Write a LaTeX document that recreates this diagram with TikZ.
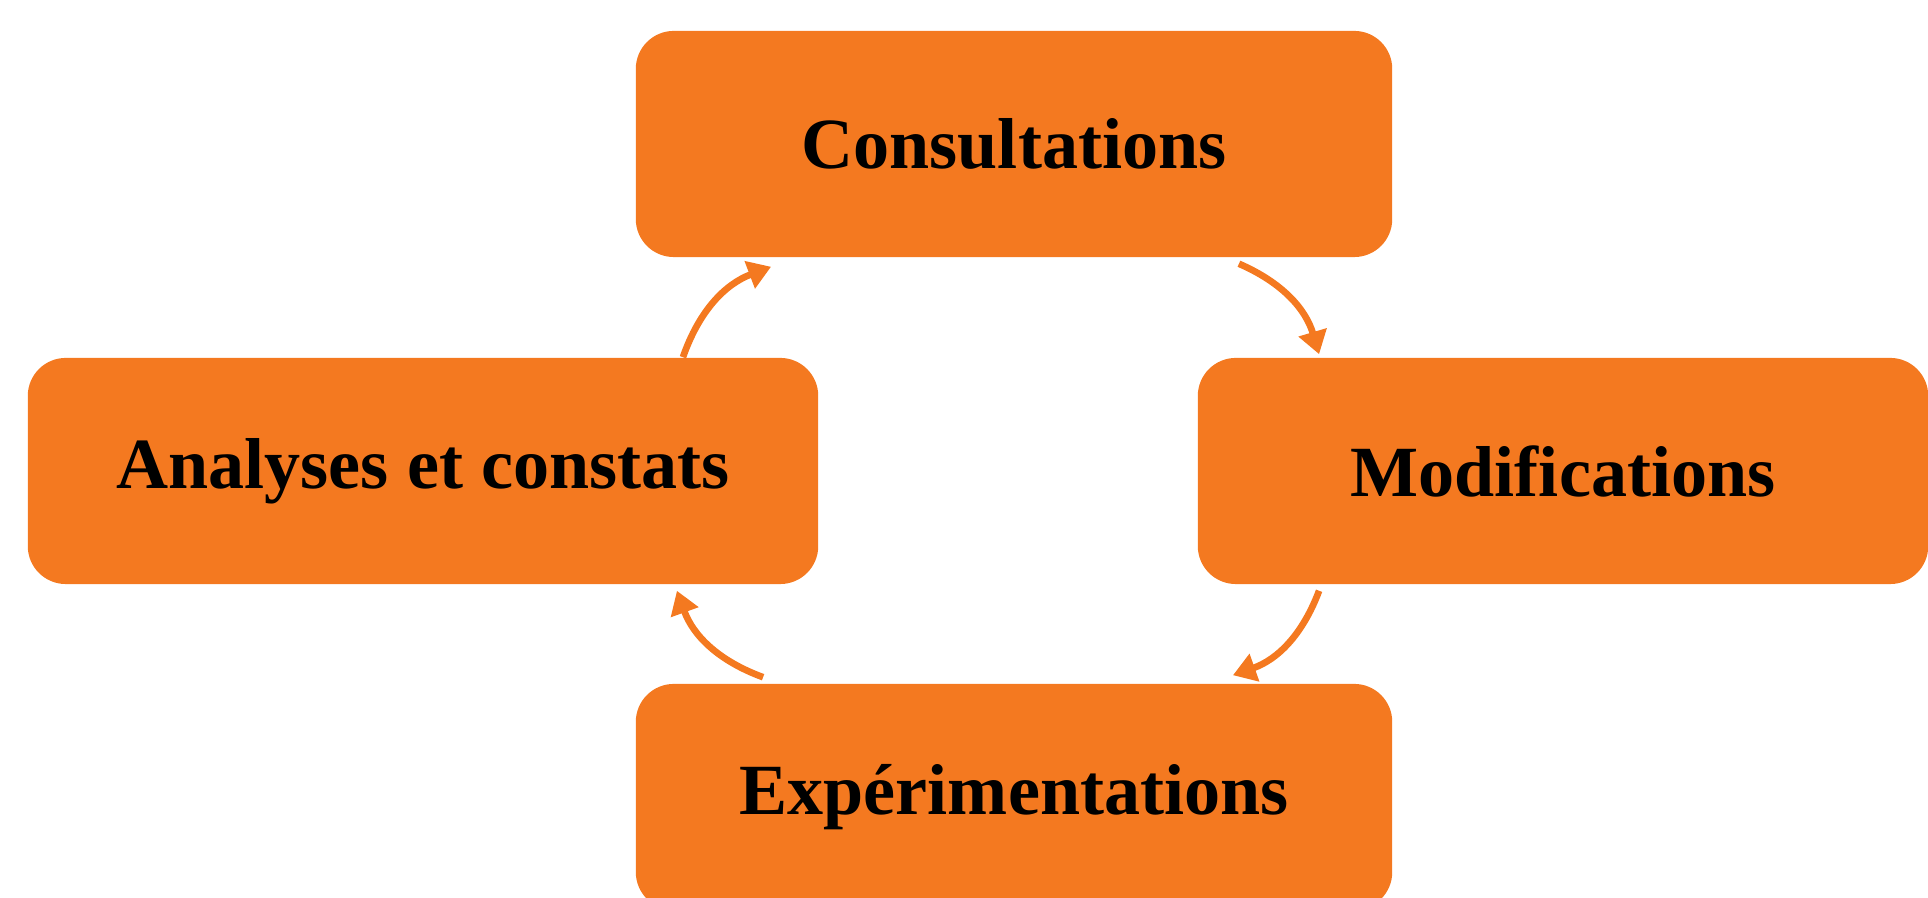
\documentclass[tikz,border=0pt]{standalone}
\usepackage{fontspec}
\setmainfont{Liberation Serif}
\usepackage{tikz}
\usetikzlibrary{positioning,arrows.meta,calc}

\definecolor{cycorange}{RGB}{244,121,32}

\begin{document}
\begin{tikzpicture}[
    x=0.01cm, y=0.01cm,
    >={Triangle[length=6.5pt,width=8pt]},
    stage/.style={
        rectangle,
        rounded corners=0.38cm,
        fill=cycorange,
        minimum height=2.26cm,
        align=center,
        inner sep=0pt,
        font=\fontsize{20.5}{24}\selectfont\bfseries
    },
    cyc/.style={->, draw=cycorange, line width=1.9pt}
]
\useasboundingbox (0,0) rectangle (1928,898);
\clip (0,0) rectangle (1928,898);

\node[stage, minimum width=7.56cm] (cons) at (1014,754) {Consultations};
\node[stage, minimum width=7.90cm] (ana) at (423,427) {Analyses et constats};
\node[stage, minimum width=7.30cm] (mod) at (1563,427) {Modifications};
\node[stage, minimum width=7.56cm] (exp) at (1014,101) {Expérimentations};

\draw[cyc] ($(ana.north east)+(-136,0)$) to[bend left=25] ($(cons.south west)+(136,-9)$);
\draw[cyc] ($(cons.south east)+(-154,-6)$) to[bend left=25] ($(mod.north west)+(122,3)$);
\draw[cyc] ($(mod.south west)+(122,-6)$) to[bend left=25] ($(exp.north east)+(-160,8)$);
\draw[cyc] ($(exp.north west)+(128,6)$) to[bend left=25] ($(ana.south east)+(-142,-6)$);

\end{tikzpicture}
\end{document}
